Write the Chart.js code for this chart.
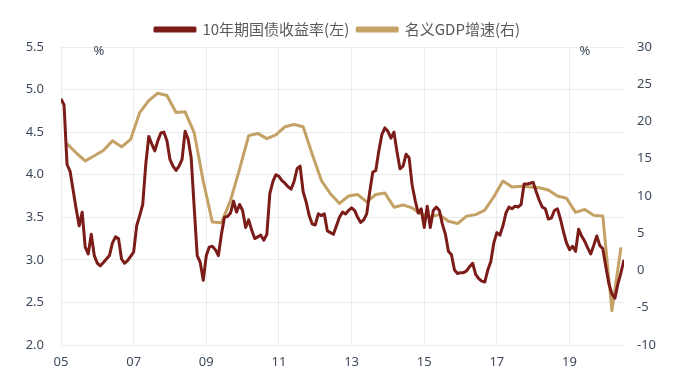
<!DOCTYPE html>
<html lang="zh">
<head>
    <meta charset="UTF-8">
    <title>10年期国债收益率与名义GDP增速</title>
    <script src="https://cdn.jsdelivr.net/npm/chart.js"></script>
    <style>
        html, body { margin: 0; padding: 0; background: #fff; }
        #wrap { width: 675px; height: 388px; }
    </style>
</head>
<body>
<div id="wrap"><canvas id="rateChart"></canvas></div>

<script>
// 10年期国债收益率, monthly from 2005-01 (%)
const yieldStartYear = 2005;
const yieldValues = [
    4.89, 4.82, 4.12, 4.04, 3.82, 3.60, 3.40, 3.56, 3.15, 3.07, 3.30, 3.05,
    2.96, 2.93, 2.97, 3.01, 3.05, 3.20, 3.27, 3.25, 3.01, 2.96, 2.99, 3.04,
    3.09, 3.40, 3.52, 3.65, 4.12, 4.45, 4.36, 4.28, 4.40, 4.49, 4.50, 4.40,
    4.18, 4.10, 4.05, 4.10, 4.18, 4.51, 4.42, 4.20, 3.62, 3.05, 2.97, 2.76,
    3.05, 3.15, 3.16, 3.12, 3.05, 3.30, 3.50, 3.51, 3.55, 3.69, 3.56, 3.65,
    3.58, 3.38, 3.47, 3.35, 3.25, 3.27, 3.29, 3.23, 3.30, 3.78, 3.92, 4.00,
    3.98, 3.93, 3.90, 3.86, 3.83, 3.92, 4.07, 4.10, 3.80, 3.68, 3.52, 3.42,
    3.41, 3.54, 3.52, 3.54, 3.34, 3.32, 3.30, 3.40, 3.50, 3.56, 3.54, 3.58,
    3.61, 3.58, 3.50, 3.44, 3.47, 3.54, 3.80, 4.03, 4.05, 4.28, 4.47, 4.55,
    4.51, 4.43, 4.50, 4.27, 4.07, 4.10, 4.24, 4.20, 3.88, 3.70, 3.55, 3.60,
    3.38, 3.63, 3.38, 3.58, 3.62, 3.58, 3.42, 3.30, 3.10, 3.06, 2.88, 2.84,
    2.85, 2.85, 2.87, 2.92, 2.96, 2.83, 2.78, 2.75, 2.74, 2.88, 2.98, 3.20,
    3.32, 3.29, 3.40, 3.55, 3.62, 3.60, 3.63, 3.62, 3.65, 3.89, 3.89, 3.90,
    3.91, 3.80, 3.70, 3.62, 3.60, 3.48, 3.49, 3.58, 3.60, 3.48, 3.33, 3.20,
    3.12, 3.16, 3.10, 3.36, 3.28, 3.22, 3.14, 3.07, 3.17, 3.28, 3.17, 3.13,
    2.92, 2.72, 2.60, 2.55, 2.72, 2.85, 3.00
];

// 名义GDP增速, quarterly from 2005Q1 (%), plotted at quarter-end month
const gdpStartYear = 2005;
const gdpValues = [
    17.0, 15.8, 14.7, 15.4,
    16.1, 17.4, 16.6, 17.6,
    21.2, 22.8, 23.8, 23.5,
    21.2, 21.3, 18.5, 12.0,
    6.5, 6.4, 9.4, 13.6,
    18.1, 18.4, 17.7, 18.2,
    19.3, 19.6, 19.3, 15.6,
    12.1, 10.3, 9.0, 10.0,
    10.2, 9.2, 10.2, 10.4,
    8.5, 8.8, 8.4, 7.6,
    7.2, 7.5, 6.6, 6.3,
    7.3, 7.5, 8.1, 9.9,
    12.0, 11.2, 11.3, 11.2,
    11.1, 10.8, 10.0, 9.7,
    7.8, 8.2, 7.4, 7.3,
    -5.4, 3.1
];

const xTickYears = [2005, 2007, 2009, 2011, 2013, 2015, 2017, 2019];
const leftTicks = [2.0, 2.5, 3.0, 3.5, 4.0, 4.5, 5.0, 5.5];
const rightTicks = [-10, -5, 0, 5, 10, 15, 20, 25, 30];

const yieldPoints = yieldValues.map((v, i) => ({ x: yieldStartYear + i / 12, y: v }));
const gdpPoints = gdpValues.map((v, i) => ({ x: gdpStartYear + (i * 3 + 2) / 12, y: v }));

const tickColor = '#3d4a5c';
const gridColor = '#ececec';

// the two "%" unit labels above the axes
const unitLabels = {
    id: 'unitLabels',
    afterDraw(chart) {
        const ctx = chart.ctx;
        ctx.save();
        ctx.fillStyle = tickColor;
        ctx.font = '13px "Noto Sans", sans-serif';
        ctx.textAlign = 'center';
        ctx.textBaseline = 'middle';
        ctx.fillText('%', 99, 51);
        ctx.fillText('%', 585, 51);
        ctx.restore();
    }
};

new Chart(document.getElementById('rateChart'), {
    type: 'line',
    data: {
        datasets: [
            {
                label: '10年期国债收益率(左)',
                data: yieldPoints,
                yAxisID: 'y',
                borderColor: '#7b1c19',
                backgroundColor: '#7b1c19',
                borderWidth: 3,
                borderJoinStyle: 'round',
                pointRadius: 0,
                tension: 0
            },
            {
                label: '名义GDP增速(右)',
                data: gdpPoints,
                yAxisID: 'y1',
                borderColor: '#c4a165',
                backgroundColor: '#c4a165',
                borderWidth: 3,
                borderJoinStyle: 'round',
                pointRadius: 0,
                tension: 0
            }
        ]
    },
    options: {
        responsive: true,
        maintainAspectRatio: false,
        animation: false,
        layout: { padding: { top: 14, left: 0, right: 0, bottom: 0 } },
        plugins: {
            legend: {
                position: 'top',
                labels: {
                    boxWidth: 40,
                    boxHeight: 3,
                    padding: 8,
                    color: '#595959',
                    font: { family: '"Noto Sans CJK SC", sans-serif', size: 15 }
                }
            },
            tooltip: { enabled: false }
        },
        scales: {
            x: {
                type: 'linear',
                min: 2005,
                max: 2020.5,
                afterBuildTicks: s => { s.ticks = xTickYears.map(v => ({ value: v })); },
                afterFit: s => { s.height = 43; },
                grid: { color: gridColor, drawTicks: false },
                border: { color: gridColor },
                ticks: {
                    color: tickColor,
                    padding: 9,
                    maxRotation: 0,
                    font: { family: '"Noto Sans", sans-serif', size: 13 },
                    callback: v => String(v).slice(2)
                }
            },
            y: {
                position: 'left',
                min: 2.0,
                max: 5.5,
                afterBuildTicks: s => { s.ticks = leftTicks.map(v => ({ value: v })); },
                afterFit: s => { s.width = 61; },
                grid: { color: gridColor, drawTicks: false },
                border: { color: gridColor },
                ticks: {
                    color: tickColor,
                    padding: 17,
                    font: { family: '"Noto Sans", sans-serif', size: 13 },
                    callback: v => v.toFixed(1)
                }
            },
            y1: {
                position: 'right',
                min: -10,
                max: 30,
                afterBuildTicks: s => { s.ticks = rightTicks.map(v => ({ value: v })); },
                afterFit: s => { s.width = 51; },
                grid: { drawOnChartArea: false, drawTicks: false },
                border: { display: false },
                ticks: {
                    color: tickColor,
                    padding: 13,
                    font: { family: '"Noto Sans", sans-serif', size: 13 }
                }
            }
        }
    },
    plugins: [unitLabels]
});
</script>
</body>
</html>
